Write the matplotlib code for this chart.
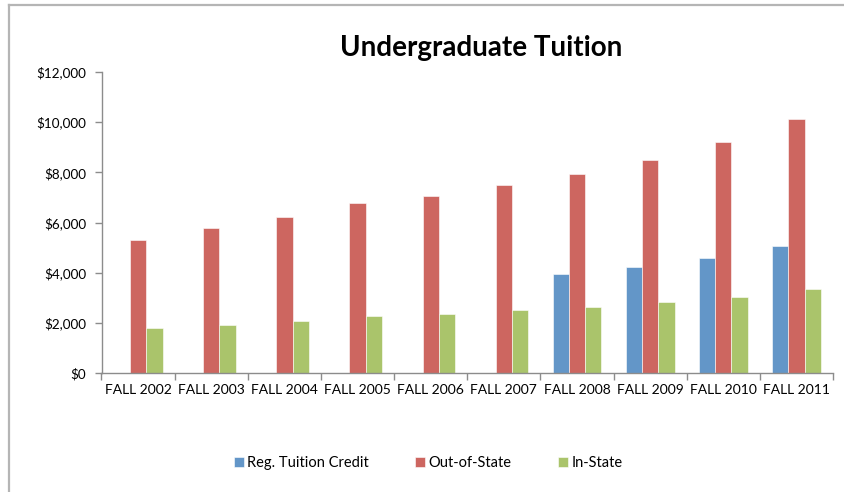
import numpy as np
import matplotlib.pyplot as plt
from matplotlib.lines import Line2D
from matplotlib.ticker import FuncFormatter

plt.rcParams['font.family'] = ['Lato', 'DejaVu Sans']

years = ["FALL 2002", "FALL 2003", "FALL 2004", "FALL 2005", "FALL 2006",
         "FALL 2007", "FALL 2008", "FALL 2009", "FALL 2010", "FALL 2011"]
reg_credit = [0, 0, 0, 0, 0, 0, 3960, 4240, 4570, 5050]
out_state = [5310, 5780, 6200, 6785, 7065, 7505, 7945, 8475, 9190, 10135]
in_state = [1795, 1925, 2070, 2255, 2360, 2525, 2645, 2815, 3015, 3345]

c_blue = "#6396C8"
c_red = "#CD6660"
c_green = "#AAC46B"
grey = "#8c8c8c"

fig = plt.figure(figsize=(8.44, 4.92), dpi=100)
ax = fig.add_axes([101.5/844, 1-373/492, (833-101.5)/844, (373-72)/492])

x = np.arange(len(years))
w = 0.223
ax.bar(x - w, reg_credit, w, color=c_blue, edgecolor="white", linewidth=0.4, label="Reg. Tuition Credit")
ax.bar(x, out_state, w, color=c_red, edgecolor="white", linewidth=0.4, label="Out-of-State")
ax.bar(x + w, in_state, w, color=c_green, edgecolor="white", linewidth=0.4, label="In-State")

ax.set_xlim(-0.5, len(years) - 0.5)
ax.set_ylim(0, 12000)
ax.set_yticks(np.arange(0, 12001, 2000))
ax.yaxis.set_major_formatter(FuncFormatter(lambda v, p: "${:,.0f}".format(v)))
ax.set_xticks(x)
ax.set_xticklabels(years)
ax.set_xticks(np.arange(-0.5, len(years), 1), minor=True)
ax.tick_params(axis="x", which="major", length=0, pad=8, labelsize=10, colors="black")
ax.tick_params(axis="x", which="minor", length=5, color=grey, width=1)
ax.tick_params(axis="y", length=5, color=grey, width=1, labelsize=9.7, pad=6)

for s in ["top", "right"]:
    ax.spines[s].set_visible(False)
for s in ["left", "bottom"]:
    ax.spines[s].set_color(grey)
    ax.spines[s].set_linewidth(1)

fig.text(481/844, 1-48/492, "Undergraduate Tuition", ha="center", va="center",
         fontsize=20, fontweight="bold")

handles, labels = ax.get_legend_handles_labels()
fig.legend(handles, labels, loc="center", bbox_to_anchor=(428/844, 1-463/492),
           ncol=3, frameon=False, fontsize=10.5, handlelength=0.7, handleheight=0.7,
           handletextpad=0.2, columnspacing=3.2)

# light frame on the left and top edges
fig.add_artist(Line2D([8.5/844, 8.5/844], [0, 1-5/492], transform=fig.transFigure,
                      color="#b5b5b5", linewidth=1.6))
fig.add_artist(Line2D([8.5/844, 1], [1-5/492, 1-5/492], transform=fig.transFigure,
                      color="#b5b5b5", linewidth=1.6))

fig.savefig("out.png", dpi=100)
